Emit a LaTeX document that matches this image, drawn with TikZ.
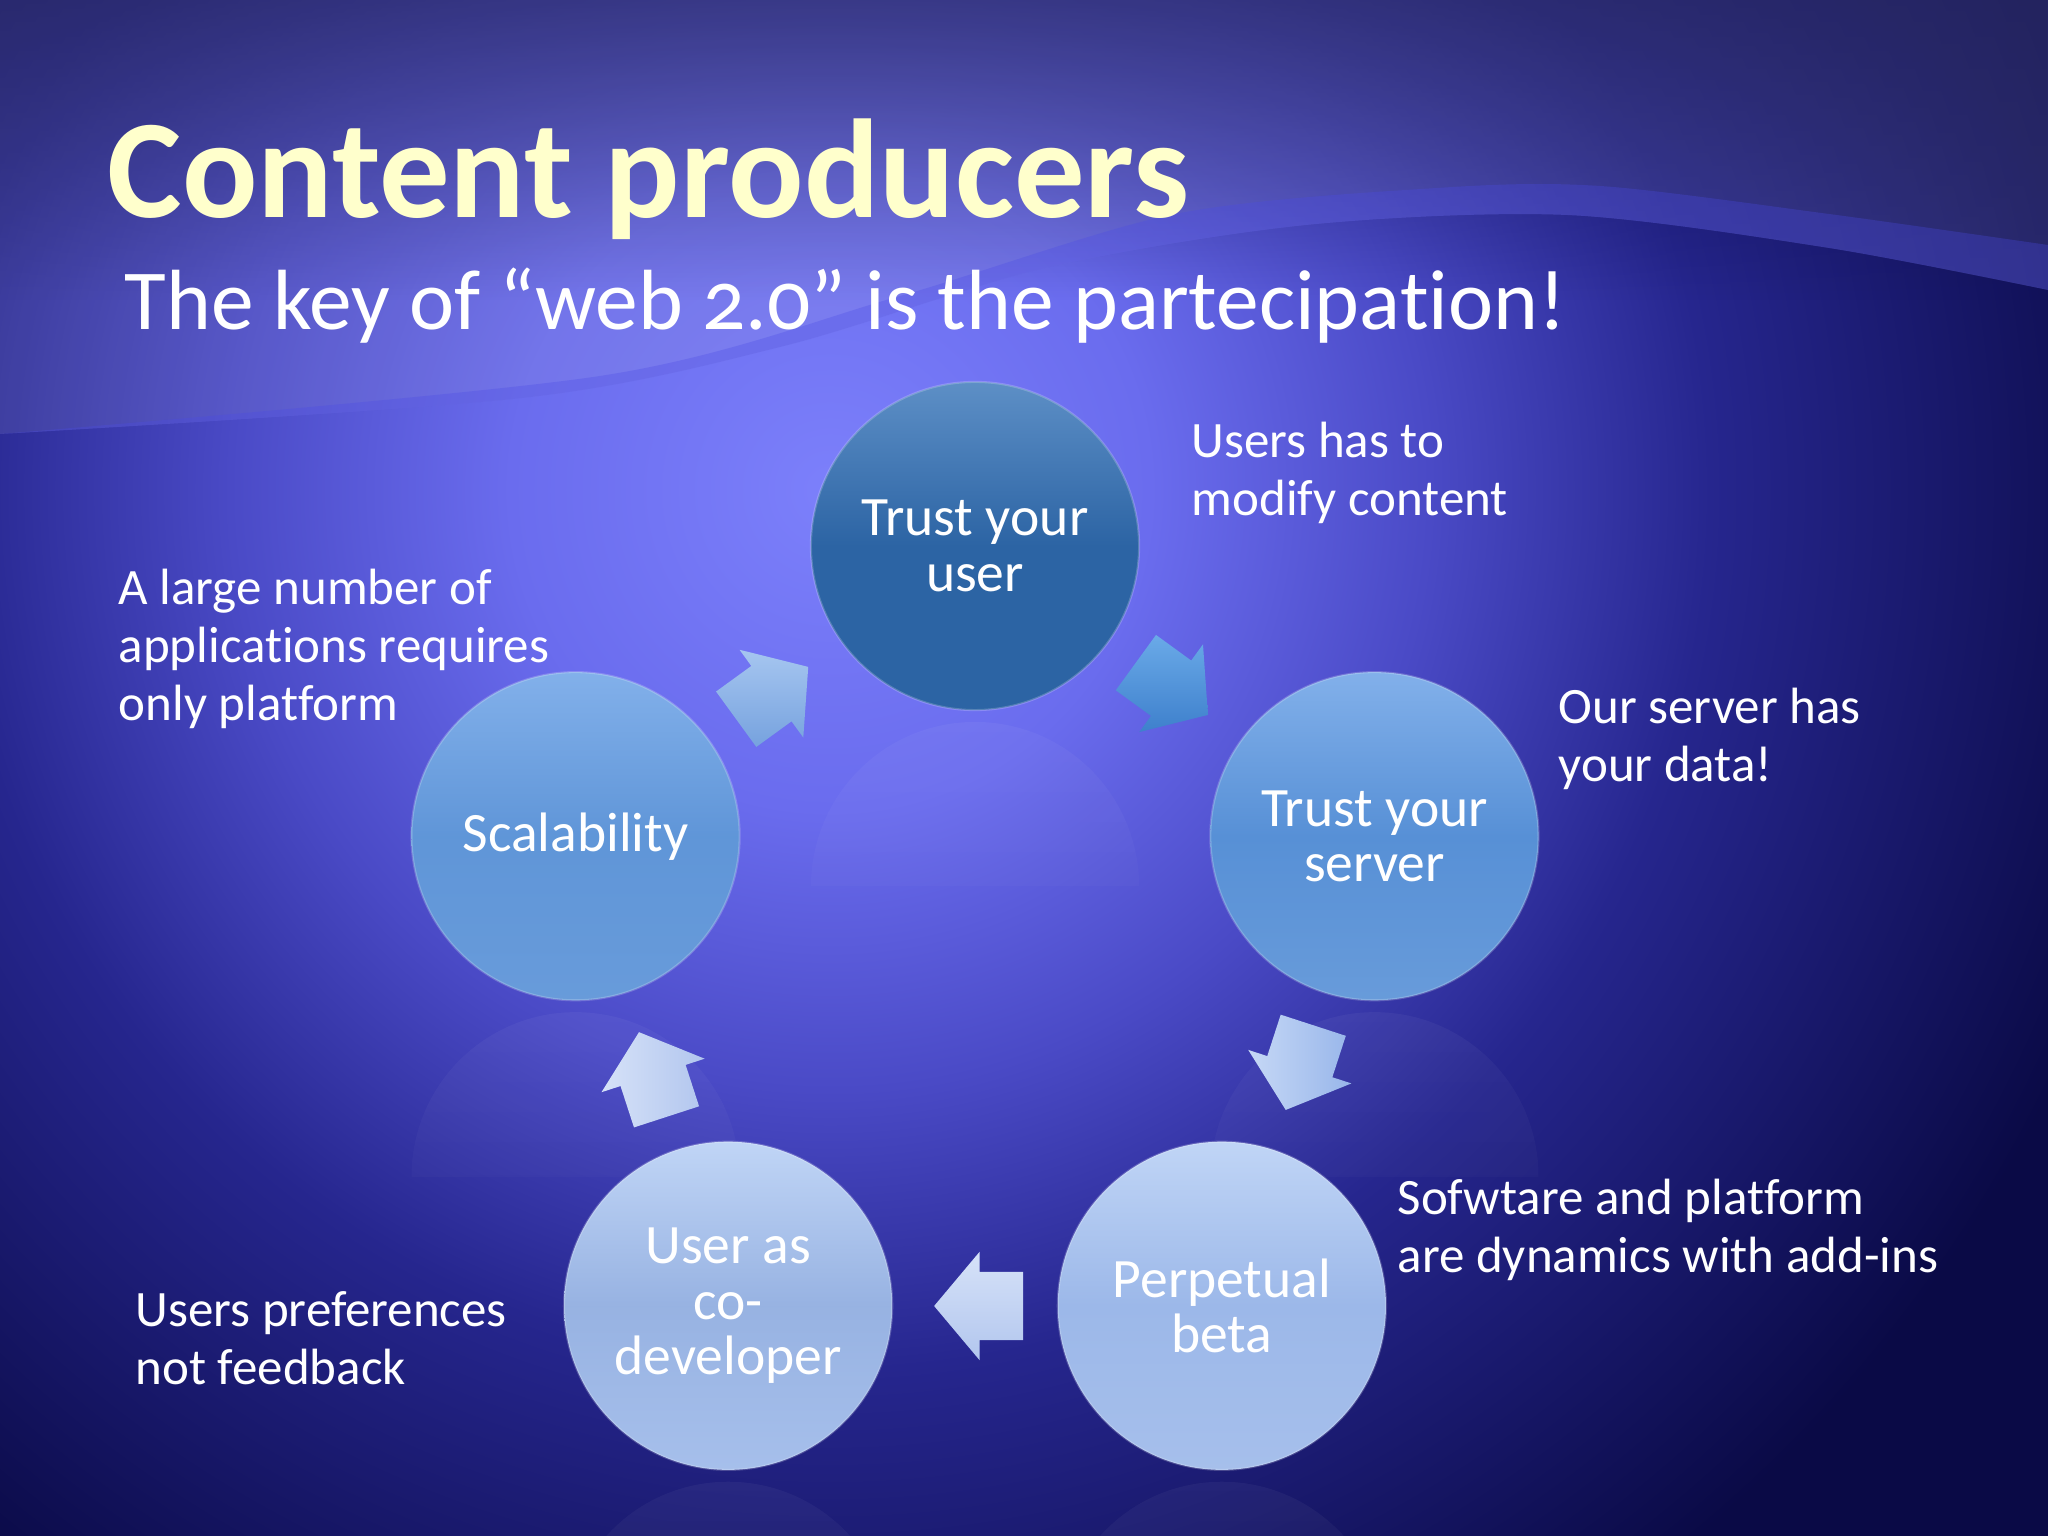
\documentclass[tikz,border=0pt]{standalone}
\usepackage{fontspec}
\setmainfont{Carlito}[Ligatures=NoCommon]
\usetikzlibrary{positioning,calc,shapes.arrows,fadings}
\definecolor{BgGlow}{HTML}{7C80FB}
\definecolor{BgHigh}{HTML}{6A6CEE}
\definecolor{BgMid}{HTML}{4A4AC6}
\definecolor{BgLow}{HTML}{26268E}
\definecolor{BgDark}{HTML}{0A0A46}
\definecolor{Lilac}{HTML}{A4A4D8}
\definecolor{Band}{HTML}{4B4BE6}
\definecolor{Cream}{HTML}{FFFFCC}
\definecolor{Deep}{HTML}{2C64A4}
\definecolor{DeepTop}{HTML}{5D8FC6}
\definecolor{Mid}{HTML}{5790D6}
\definecolor{MidTop}{HTML}{82B0EA}
\definecolor{Pale}{HTML}{9CB8E9}
\definecolor{PaleTop}{HTML}{C0D5F6}
\definecolor{ArrA}{HTML}{6AAAE8}
\definecolor{ArrB}{HTML}{3E80CC}
\definecolor{ArrC}{HTML}{C6D8F6}
\definecolor{ArrD}{HTML}{98B6EA}
\definecolor{ArrE}{HTML}{D6E2F8}
\definecolor{ArrF}{HTML}{B2C6EE}
\definecolor{ArrG}{HTML}{A6C6F0}
\definecolor{ArrH}{HTML}{76A2DE}
\pgfdeclareradialshading{slidebg}{\pgfpoint{0bp}{0bp}}{color(0bp)=(BgGlow); color(4bp)=(BgHigh); color(7.5bp)=(BgMid); color(11bp)=(BgLow); color(17bp)=(BgDark); color(25bp)=(BgDark); color(50bp)=(BgDark)}
\tikzfading[name=fadedown, top color=transparent!40, middle color=transparent!100, bottom color=transparent!100]
\tikzfading[name=topshade, top color=transparent!35, bottom color=transparent!100]

\begin{document}
\begin{tikzpicture}[x=0.01cm,y=0.01cm,
    bub/.style={circle,minimum size=3.28cm,inner sep=0pt,align=center,text=white,draw=white,draw opacity=.2,line width=.6pt,font=\fontsize{15.8}{15.8}\selectfont},
    note/.style={anchor=west,align=left,text=white,inner sep=0pt,font=\fontsize{14.5}{16.5}\selectfont},
    blk/.style={single arrow,minimum height=.89cm,inner xsep=0pt,inner ysep=.335cm,single arrow head extend=.2cm,single arrow tip angle=100}]
  \useasboundingbox (0,0) rectangle (2048,1536);
  % background and swoosh
  \begin{scope}
    \clip (0,0) rectangle (2048,1536);
    \shade[shading=slidebg] (830,1046) circle (2000);
    \fill[BgDark,path fading=topshade] (0,1236) rectangle (2048,1536);
    \fill[Lilac,opacity=.16] (0,1536) -- plot[smooth] coordinates {(0,1102) (522,1138) (784,1190) (1045,1268) (1306,1311) (1567,1321) (1829,1288) (2048,1246)} -- (2048,1536) -- cycle;
    \fill[Band,opacity=.3] plot[smooth] coordinates {(0,1102) (522,1138) (784,1190) (1045,1268) (1306,1311) (1567,1321) (1829,1288) (2048,1246)} -- (2048,1291) -- plot[smooth] coordinates {(2048,1291) (1829,1322) (1600,1350) (1437,1348) (1175,1322) (900,1240) (600,1160) (0,1102)} -- cycle;
  \end{scope}

  \node[anchor=base west,inner sep=0pt,text=Cream,font=\fontsize{40}{40}\selectfont\bfseries] (title) at (107,1318) {Content producers};
  \node[anchor=base west,inner sep=0pt,text=white,font=\fontsize{24.3}{24.3}\selectfont\addfontfeatures{Numbers=OldStyle}] (subtitle) at (124,1206) {The key of “web 2.0” is the partecipation!};

  \coordinate (hub) at (975,570);
  % faint reflections under the bubbles
  \foreach \ang in {90,18,-54,-126,162}{
    \begin{scope}
      \clip ($(hub)+(\ang:420)+(-164,-176)$) rectangle ($(hub)+(\ang:420)+(164,-340)$);
      \fill[white,opacity=.07,path fading=fadedown] ($(hub)+(\ang:420)+(0,-340)$) circle (164);
    \end{scope}
  }

  \node[bub,top color=DeepTop,bottom color=Deep,middle color=Deep] (trustu) at ($(hub)+(90:420)$) {Trust your\\user};
  \node[bub,top color=MidTop,bottom color=Mid!90!white,middle color=Mid] (trusts) at ($(hub)+(18:420)$) {Trust your\\server};
  \node[bub,top color=PaleTop,bottom color=Pale!90!white,middle color=Pale] (pbeta) at ($(hub)+(-54:420)$) {Perpetual\\beta};
  \node[bub,top color=PaleTop,bottom color=Pale!90!white,middle color=Pale!97!black] (codev) at ($(hub)+(-126:420)$) {User as\\co-\\developer};
  \node[bub,top color=MidTop,bottom color=Mid!90!white,middle color=Mid!95!white] (scal) at ($(hub)+(162:420)$) {Scalability};

  \node[blk,rotate=-36,top color=ArrA,bottom color=ArrB] (a12) at ($(hub)+(54:340)+(144:18)$) {};
  \node[blk,rotate=-108,left color=ArrC,right color=ArrD] (a23) at ($(hub)+(-18:340)+(72:18)$) {};
  \node[blk,rotate=180,top color=ArrE,bottom color=ArrF] (a34) at ($(hub)+(-90:340)+(0:18)$) {};
  \node[blk,rotate=108,left color=ArrE,right color=ArrF] (a45) at ($(hub)+(-162:340)+(-72:18)$) {};
  \node[blk,rotate=36,top color=ArrG,bottom color=ArrH] (a51) at ($(hub)+(126:340)+(216:18)$) {};

  \node[note] (n1) at (1191,1063) {Users has to\\modify content};
  \node[note] (n2) at (118,887) {A large number of\\applications requires\\only platform};
  \node[note] (n3) at (1558,797) {Our server has\\your data!};
  \node[note] (n4) at (1397,306) {Sofwtare and platform\\are dynamics with add-ins};
  \node[note] (n5) at (135,198) {Users preferences\\not feedback};
\end{tikzpicture}
\end{document}
